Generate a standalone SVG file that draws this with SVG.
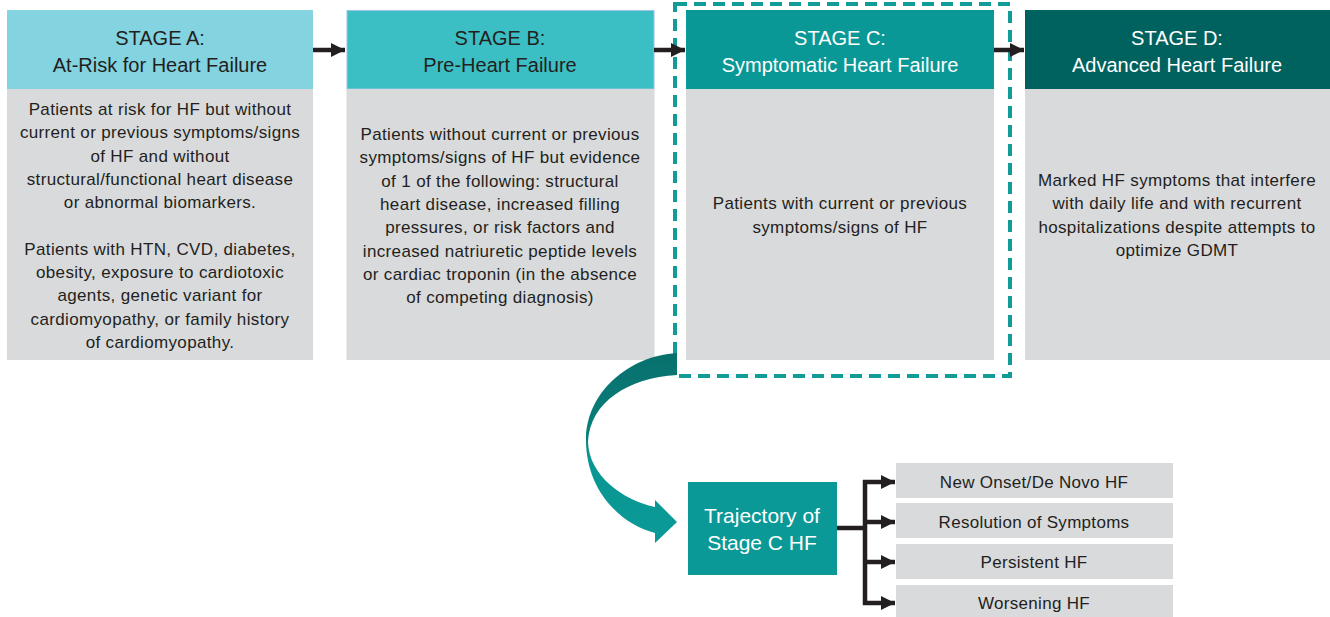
<svg xmlns="http://www.w3.org/2000/svg" width="1330" height="617" viewBox="0 0 1330 617">
<defs>
<style>
text{font-family:"Liberation Sans",Arial,sans-serif;text-anchor:middle}
.hd{font-size:20px}
.bd{font-size:17px;letter-spacing:0.35px;fill:#231F20}
.dk{fill:#231F20}
.wt{fill:#FFFFFF}
.body{fill:#D9DADC}
.conn{stroke:#231F20;stroke-width:4.5;fill:none}
.ob{fill:#D9DADC}
.ot{font-size:17px;letter-spacing:0.3px;fill:#231F20}
.tt{font-size:21px;fill:#FFFFFF}
</style>
<marker id="ah" markerWidth="4" markerHeight="4" refX="3.2" refY="2" orient="auto" markerUnits="strokeWidth">
<path d="M0,0.4 L3.2,2 L0,3.6 Z" fill="#231F20"/>
</marker>
<linearGradient id="cg" x1="0" y1="0" x2="0" y2="1">
<stop offset="0" stop-color="#08706D"/>
<stop offset="0.45" stop-color="#0A807C"/>
<stop offset="0.55" stop-color="#0A9692"/>
<stop offset="1" stop-color="#0A9A96"/>
</linearGradient>
</defs>
<rect width="1330" height="617" fill="#FFFFFF"/>

<g id="stageA">
<rect x="7" y="10" width="306" height="79" fill="#83D3E0"/>
<rect class="body" x="7" y="89" width="306" height="271"/>
<text class="hd dk" x="160" y="45">STAGE A:</text>
<text class="hd dk" x="160" y="72">At-Risk for Heart Failure</text>
<text class="bd" x="160" y="115">Patients at risk for HF but without</text>
<text class="bd" x="160" y="138.3">current or previous symptoms/signs</text>
<text class="bd" x="160" y="161.6">of HF and without</text>
<text class="bd" x="160" y="185">structural/functional heart disease</text>
<text class="bd" x="160" y="208.2">or abnormal biomarkers.</text>
<text class="bd" x="160" y="254.8">Patients with HTN, CVD, diabetes,</text>
<text class="bd" x="160" y="278">obesity, exposure to cardiotoxic</text>
<text class="bd" x="160" y="301.4">agents, genetic variant for</text>
<text class="bd" x="160" y="324.7">cardiomyopathy, or family history</text>
<text class="bd" x="160" y="348">of cardiomyopathy.</text>
</g>

<g id="stageB">
<rect x="347" y="10.5" width="307" height="78.5" fill="#3BBFC4" stroke="#9CC2E5" stroke-width="1"/>
<rect class="body" x="346.5" y="89" width="308" height="271"/>
<text class="hd dk" x="500" y="45">STAGE B:</text>
<text class="hd dk" x="500" y="72">Pre-Heart Failure</text>
<text class="bd" x="500" y="140">Patients without current or previous</text>
<text class="bd" x="500" y="163.3">symptoms/signs of HF but evidence</text>
<text class="bd" x="500" y="186.6">of 1 of the following: structural</text>
<text class="bd" x="500" y="210">heart disease, increased filling</text>
<text class="bd" x="500" y="233.2">pressures, or risk factors and</text>
<text class="bd" x="500" y="256.5">increased natriuretic peptide levels</text>
<text class="bd" x="500" y="279.8">or cardiac troponin (in the absence</text>
<text class="bd" x="500" y="303">of competing diagnosis)</text>
</g>

<g id="stageC">
<rect x="686" y="10" width="308" height="79" fill="#0A9896"/>
<rect class="body" x="686" y="89" width="308" height="271"/>
<text class="hd wt" x="840" y="45">STAGE C:</text>
<text class="hd wt" x="840" y="72">Symptomatic Heart Failure</text>
<text class="bd" x="840" y="209">Patients with current or previous</text>
<text class="bd" x="840" y="232.5">symptoms/signs of HF</text>
</g>

<g id="stageD">
<rect x="1025" y="10" width="305" height="79" fill="#00625F"/>
<rect class="body" x="1025" y="89" width="305" height="271"/>
<text class="hd wt" x="1177" y="45">STAGE D:</text>
<text class="hd wt" x="1177" y="72">Advanced Heart Failure</text>
<text class="bd" x="1177" y="186">Marked HF symptoms that interfere</text>
<text class="bd" x="1177" y="209.3">with daily life and with recurrent</text>
<text class="bd" x="1177" y="232.6">hospitalizations despite attempts to</text>
<text class="bd" x="1177" y="256">optimize GDMT</text>
</g>

<g id="highlight">
<rect x="675" y="4" width="335" height="372" fill="none" stroke="#129C98" stroke-width="4" stroke-dasharray="12 7"/>
</g>

<g id="trajectory">
<rect x="688" y="482" width="149" height="93" fill="#0A9996"/>
<text class="tt" x="762" y="523">Trajectory of</text>
<text class="tt" x="762" y="550">Stage C HF</text>
</g>

<g id="out1"><rect class="ob" x="896" y="463" width="277" height="35"/><text class="ot" x="1034" y="488">New Onset/De Novo HF</text></g>
<g id="out2"><rect class="ob" x="896" y="503" width="277" height="35"/><text class="ot" x="1034" y="528">Resolution of Symptoms</text></g>
<g id="out3"><rect class="ob" x="896" y="544" width="277" height="35"/><text class="ot" x="1034" y="568">Persistent HF</text></g>
<g id="out4"><rect class="ob" x="896" y="585" width="277" height="35"/><text class="ot" x="1034" y="609">Worsening HF</text></g>

<g id="connectors">
<line class="conn" x1="313" y1="50" x2="345" y2="50" marker-end="url(#ah)"/>
<line class="conn" x1="654" y1="50" x2="685" y2="50" marker-end="url(#ah)"/>
<line class="conn" x1="994" y1="50" x2="1024" y2="50" marker-end="url(#ah)"/>
<path d="M677,353 C628,356 586,393 586,440 C586,490 620,524 655,533 L655,543 L677,522 L655,500 L655,507 C622,500 589,475 588,442 C590,402 628,378 677,375 Z" fill="url(#cg)"/>
<line class="conn" x1="837" y1="528" x2="865" y2="528"/>
<line class="conn" x1="865" y1="480" x2="865" y2="605"/>
<line class="conn" x1="863" y1="482" x2="895" y2="482" marker-end="url(#ah)"/>
<line class="conn" x1="865" y1="522" x2="895" y2="522" marker-end="url(#ah)"/>
<line class="conn" x1="865" y1="562" x2="895" y2="562" marker-end="url(#ah)"/>
<line class="conn" x1="863" y1="603" x2="895" y2="603" marker-end="url(#ah)"/>
</g>
</svg>
